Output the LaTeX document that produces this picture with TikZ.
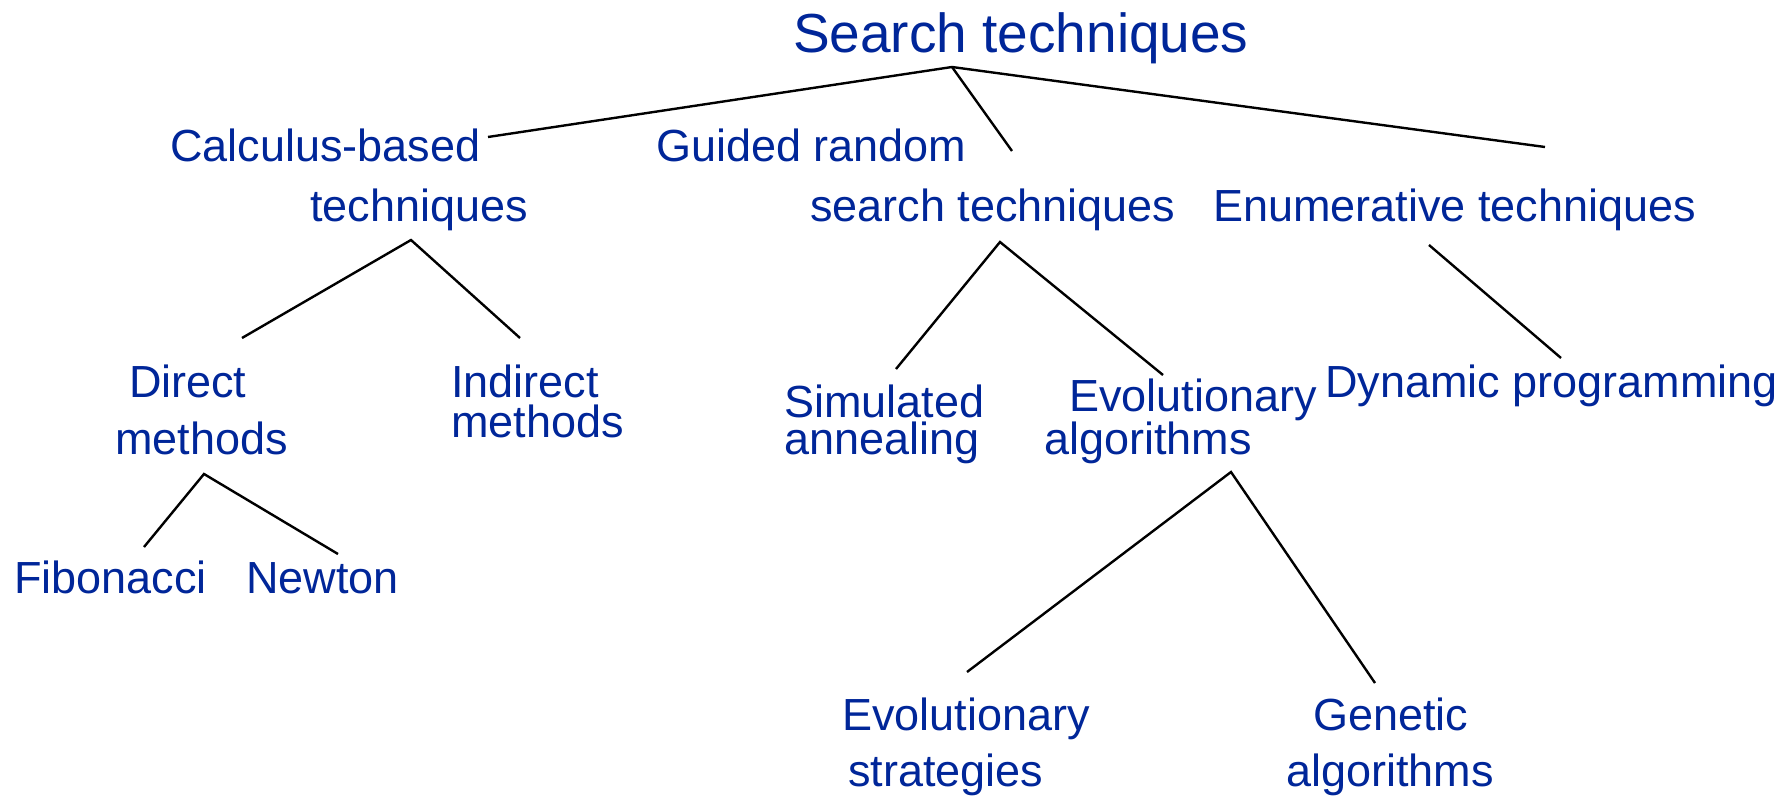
\documentclass[tikz,border=0pt]{standalone}
\usepackage{fontspec}
\setmainfont{Liberation Sans}
\definecolor{labelblue}{RGB}{0,38,153}
\tikzset{
  lbl/.style={anchor=base west, inner sep=0pt, outer sep=0pt, text=labelblue,
              font=\fontsize{45}{52}\selectfont},
  % two-line label; its base anchor sits on the second line
  pair/.style={lbl, align=left, font=\fontsize{45}{37}\selectfont},
  toplbl/.style={lbl, font=\fontsize{55}{62}\selectfont},
  branch/.style={draw=black, line width=2.4pt}
}
\begin{document}
\begin{tikzpicture}[x=1pt, y=-1pt]
\fill[white] (0,0) rectangle (1781,797);
\useasboundingbox (0,0) rectangle (1781,797);

% labels
\node[toplbl] (root) at (793,53) {Search techniques};
\node[lbl] (calcA) at (170,162) {Calculus-based};
\node[lbl] (calcB) at (310,221) {techniques};
\node[lbl] (guidA) at (656,162) {Guided random};
\node[lbl] (guidB) at (810,221) {search techniques};
\node[lbl] (enum)  at (1213,221) {Enumerative techniques};
\node[lbl] (dirA)  at (129,397) {Direct};
\node[lbl] (dirB)  at (115,454) {methods};
\node[pair, font=\fontsize{45}{40}\selectfont] (ind) at (451,437) {Indirect\\methods};
\node[pair] (sim)  at (784,454) {Simulated\\annealing};
\node[pair] (evo)  at (1044,454) {\hspace*{25pt}Evolutionary\\algorithms};
\node[lbl] (dyn)   at (1325,397) {Dynamic programming};
\node[lbl] (fib)   at (14,593) {Fibonacci};
\node[lbl] (newt)  at (246,593) {Newton};
\node[lbl] (esA)   at (842,730) {Evolutionary};
\node[lbl] (esB)   at (848,786) {strategies};
\node[lbl] (gaA)   at (1313,730) {Genetic};
\node[lbl] (gaB)   at (1286,786) {algorithms};

% connector end points
\coordinate (rootJ) at (952,67);
\coordinate (calcT) at (488,137);
\coordinate (guidT) at (1012,151);
\coordinate (enumT) at (1545,147);
\coordinate (calcJ) at (411,240);
\coordinate (dirT)  at (242,338);
\coordinate (indT)  at (520,338);
\coordinate (guidJ) at (1000,242);
\coordinate (simT)  at (896,369);
\coordinate (evoT)  at (1163,375);
\coordinate (enumJ) at (1429,245);
\coordinate (dynT)  at (1561,358);
\coordinate (dirJ)  at (204,474);
\coordinate (fibT)  at (144,547);
\coordinate (newtT) at (338,554);
\coordinate (evoJ)  at (1231,472);
\coordinate (esT)   at (967,672);
\coordinate (gaT)   at (1375,683);

% tree branches
\draw[branch] (calcT) -- (rootJ) -- (enumT);
\draw[branch] (rootJ) -- (guidT);
\draw[branch] (dirT) -- (calcJ) -- (indT);
\draw[branch] (simT) -- (guidJ) -- (evoT);
\draw[branch] (enumJ) -- (dynT);
\draw[branch] (fibT) -- (dirJ) -- (newtT);
\draw[branch] (esT) -- (evoJ) -- (gaT);
\end{tikzpicture}
\end{document}
